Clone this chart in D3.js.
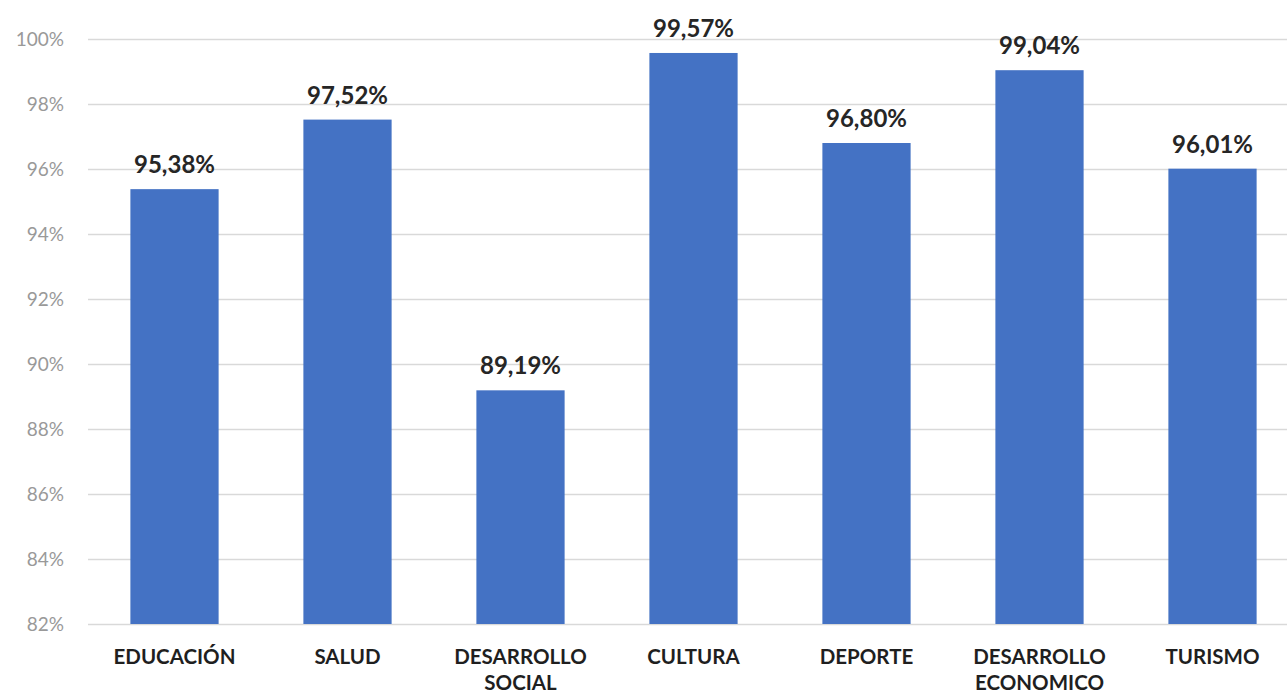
<!DOCTYPE html>
<html><head><meta charset="utf-8">
<script src="https://cdn.jsdelivr.net/npm/d3@7"></script>
<style>html,body{margin:0;padding:0;background:#fff;}svg{display:block;}</style>
</head><body>
<script>
const categories = [["EDUCACIÓN"],["SALUD"],["DESARROLLO","SOCIAL"],["CULTURA"],["DEPORTE"],["DESARROLLO","ECONOMICO"],["TURISMO"]];
const values = [95.38, 97.52, 89.19, 99.57, 96.80, 99.04, 96.01];
const valueLabels = ["95,38%","97,52%","89,19%","99,57%","96,80%","99,04%","96,01%"];
const yTicks = [82,84,86,88,90,92,94,96,98,100];

const W = 1287, H = 695;
const svg = d3.select("body").append("svg").attr("width", W).attr("height", H);
const keys = categories.map(c => c.join(" "));
const x = d3.scaleBand().domain(keys).range([88, 1299]).paddingInner(0.49).paddingOuter(0.245);
const y = d3.scaleLinear().domain([82, 100]).range([624, 39]);

// gridlines
const yAxis = d3.axisLeft(y).tickValues(yTicks).tickSize(-(1299 - 88)).tickFormat(d => d + "%").tickPadding(24);
const gy = svg.append("g").attr("transform", "translate(88,0)").call(yAxis);
gy.select(".domain").remove();
gy.selectAll(".tick line").attr("stroke", "#d9d9d9").attr("stroke-width", 1.5);
gy.selectAll(".tick text").attr("fill", "#999999").style("font-family", "Lato, 'Open Sans', sans-serif").style("font-size", "19px");

// bars
svg.append("g").selectAll("rect").data(values).join("rect")
  .attr("x", (d, i) => x(keys[i]))
  .attr("width", x.bandwidth())
  .attr("y", d => y(d))
  .attr("height", d => y(82) - y(d))
  .attr("fill", "#4472C4");

// value labels
svg.append("g").selectAll("text").data(values).join("text")
  .attr("x", (d, i) => x(keys[i]) + x.bandwidth() / 2)
  .attr("y", d => y(d) - 16)
  .attr("text-anchor", "middle")
  .attr("fill", "#262626")
  .style("font-family", "Lato, 'Open Sans', sans-serif")
  .style("font-weight", "bold")
  .style("font-size", "24px")
  .text((d, i) => valueLabels[i]);

// category labels
const cg = svg.append("g").selectAll("text").data(categories).join("text")
  .attr("x", (d, i) => x(keys[i]) + x.bandwidth() / 2)
  .attr("y", 664)
  .attr("text-anchor", "middle")
  .attr("fill", "#1f1f1f")
  .style("font-family", "Lato, 'Open Sans', sans-serif")
  .style("font-weight", "bold")
  .style("font-size", "20.5px");
cg.each(function(d) {
  const t = d3.select(this);
  d.forEach((line, j) => {
    t.append("tspan").attr("x", t.attr("x")).attr("dy", j === 0 ? 0 : 26).text(line);
  });
});
</script>
</body></html>
